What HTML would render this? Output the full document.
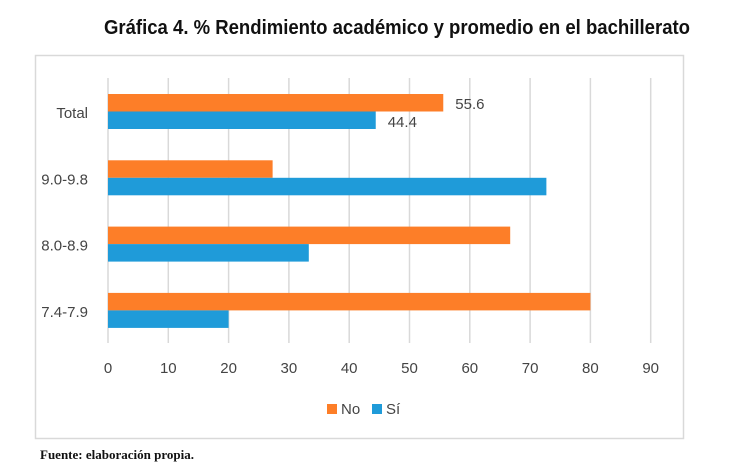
<!DOCTYPE html>
<html><head><meta charset="utf-8"><style>
body{margin:0;width:732px;height:470px;background:#fff;overflow:hidden}
svg{display:block}
text{font-family:"Liberation Sans Narrow","Liberation Sans",sans-serif}
</style></head><body>
<svg id="c" width="732" height="470">
<text x="397" y="34" text-anchor="middle" font-size="20" font-weight="bold" fill="#111" textLength="586" lengthAdjust="spacingAndGlyphs">Gráfica 4. % Rendimiento académico y promedio en el bachillerato</text>
<rect x="35.5" y="55.5" width="648" height="383" fill="none" stroke="#d9d9d9" stroke-width="1.5"/>
<g id="grid"></g><g id="bars"></g><g id="labels"></g>
<rect x="327" y="404" width="10" height="10" fill="#fd7e28"/>
<text x="341" y="414" font-size="15" fill="#444">No</text>
<rect x="372" y="404" width="10" height="10" fill="#1f9bd9"/>
<text x="386" y="414" font-size="15" fill="#444">Sí</text>
<text x="40" y="459" font-family="Liberation Serif,serif" font-size="13" font-weight="bold" fill="#111" style="font-family:'Liberation Serif',serif">Fuente: elaboración propia.</text>
</svg>
<script>
const categories=["Total","9.0-9.8","8.0-8.9","7.4-7.9"];
const noValues=[55.6,27.3,66.7,80];
const siValues=[44.4,72.7,33.3,20];
const ticks=[0,10,20,30,40,50,60,70,90-10,90];
const printedNo=["55.6",null,null,null];
const printedSi=["44.4",null,null,null];
const NS="http://www.w3.org/2000/svg";
const x=v=>108+v*6.03;
const y=i=>94+i*66.3;
function mk(t,a,p){const e=document.createElementNS(NS,t);for(const k in a)e.setAttribute(k,a[k]);p.appendChild(e);return e;}
const G=document.getElementById('grid'),B=document.getElementById('bars'),L=document.getElementById('labels');
[...new Set(ticks)].forEach(t=>{
 const l=mk('line',{x1:x(t),x2:x(t),y1:78,y2:343,stroke:'#d9d9d9','stroke-width':1.5},G);
 
 
 const tx=mk('text',{x:x(t),y:373,'text-anchor':'middle','font-size':15,fill:'#444'},L);tx.textContent=t;
 
 
});
categories.forEach((c,i)=>{
 const t=mk('text',{x:88,y:y(i)+24,'text-anchor':'end','font-size':15,fill:'#444'},L);t.textContent=c;
 
 
 const a=mk('rect',{x:x(0),y:y(i),width:x(noValues[i])-x(0),height:17.5,fill:'#fd7e28'},B);
 
 
 const b=mk('rect',{x:x(0),y:y(i)+17.5,width:x(siValues[i])-x(0),height:17.5,fill:'#1f9bd9'},B);
 
 
 if(printedNo[i]){const v=mk('text',{x:x(noValues[i])+12,y:y(i)+15,'font-size':15,fill:'#444'},L);v.textContent=printedNo[i];
 
 }
 if(printedSi[i]){const v=mk('text',{x:x(siValues[i])+12,y:y(i)+33,'font-size':15,fill:'#444'},L);v.textContent=printedSi[i];
 
 }
});
</script>
</body></html>
